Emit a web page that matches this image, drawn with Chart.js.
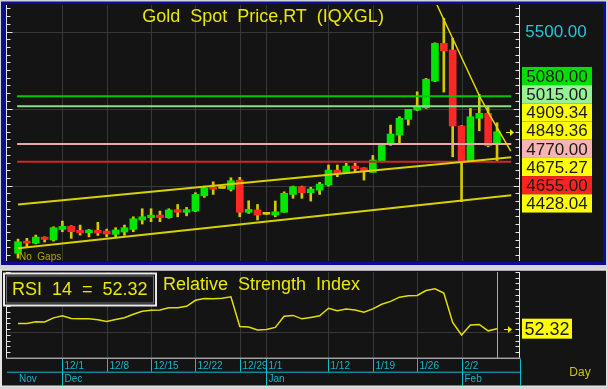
<!DOCTYPE html>
<html><head><meta charset="utf-8">
<script src="https://cdn.jsdelivr.net/npm/chart.js@4.4.1/dist/chart.umd.min.js"></script>
<style>
html,body{margin:0;padding:0;background:#d4d4d4;width:608px;height:389px;overflow:hidden}
canvas{position:absolute;left:0}
#main{top:0}
#rsi{top:266px}
</style></head><body>
<canvas id="main" width="608" height="266"></canvas>
<canvas id="rsi" width="608" height="123"></canvas>
<script>
// ---------- DATA (daily candles, 11/24 .. 2/6, no gaps) ----------
const opens  = [4061,4140,4126,4166,4147,4216,4236,4210,4194,4210,4205,4184,4199,4216,4277,4292,4309,4292,4344,4327,4335,4434,4484,4482,4476,4536,4327,4342,4314,4309,4327,4443,4493,4454,4471,4504,4601,4586,4627,4616,4586,4660,4770,4828,4930,4990,5005,5179,5423,5380,4887,4655,4937,4969,4768];
const highs  = [4153,4158,4179,4168,4233,4270,4240,4244,4216,4262,4218,4227,4244,4298,4350,4350,4335,4350,4378,4359,4454,4497,4525,4482,4551,4554,4402,4378,4314,4400,4460,4497,4497,4489,4521,4634,4634,4645,4645,4616,4696,4761,4893,4947,4995,5109,5196,5427,5586,5456,4890,5001,5092,5016,4908];
const lows   = [4030,4100,4122,4134,4140,4201,4158,4179,4168,4177,4168,4164,4177,4201,4251,4266,4266,4288,4298,4304,4331,4424,4443,4482,4465,4298,4320,4277,4314,4298,4327,4418,4418,4400,4443,4497,4558,4586,4584,4536,4586,4660,4761,4770,4893,4986,5001,5174,5107,4687,4396,4655,4856,4752,4660];
const closes = [4136,4127,4166,4151,4227,4236,4201,4193,4212,4193,4186,4212,4227,4285,4298,4309,4292,4342,4327,4344,4443,4486,4476,4482,4532,4327,4346,4309,4314,4330,4450,4493,4454,4478,4510,4601,4580,4627,4610,4595,4666,4761,4835,4937,4995,5016,5190,5423,5375,4887,4651,4947,4969,4759,4849.36];
const rsiValues = [55.9,56.0,57.1,57.0,59.9,61.4,59.5,59.2,59.2,58.5,57.4,58.8,60.0,62.4,64.5,65.2,65.4,66.9,66.9,68.0,72.2,73.4,73.3,73.6,74.6,53.9,53.5,51.4,51.8,53.2,61.0,61.6,59.2,60.2,61.3,66.6,64.9,66.1,65.4,63.8,66.2,69.4,71.4,74.4,75.4,75.6,79.0,80.2,77.2,56.7,47.9,54.9,55.3,50.8,52.32];

const weekTickIdx    = [5,10,15,20,25,28,35,40,45,50];
const weekTickLabels = ['12/1','12/8','12/15','12/22','12/29','1/1','1/12','1/19','1/26','2/2'];
const monthTickIdx    = [0,5,28,50];
const monthTickLabels = ['Nov','Dec','Jan','Feb'];

const levelValues = [5080,5015,4770,4655];
const levelColors = ['#00c800','#84e084','#e8aaaa','#d02626'];
const levelSpan   = [-0.1,55.6];

const channelIdx   = [0,55.6];
const upperChannel = [4377,4684];
const lowerChannel = [4094,4438];

const trendIdx    = [47.0,49.08,52.08,53.2,55.55];
const trendPrices = [5701,5445,5075,4956,4724];

const sideLabelValues = [5080,5015,4909.34,4849.36,4770,4675.27,4655,4428.04];
const sideLabelColors = ['#00e000','#98f098','#ffff00','#ffff00','#f6b4b4','#ffff00','#ff2222','#ffff00'];
const axisPriceLabel = 5500;
const priceGrid = [4500,5000,5500];
const rsiGrid = [50];
const rsiPeriod = 14;

const FONT = '"Liberation Sans", Arial, sans-serif';
const YEL = '#e8e800';
const CYAN = '#10b8c8';

// ---------- helpers ----------
const idx = closes.map((_, i) => i);
const last = closes.length - 1;

function stackLabels(targets, h) {
  let clusters = targets.map(t => ({ sum: t, n: 1 }));
  let changed = true;
  while (changed) {
    changed = false;
    for (let k = 0; k < clusters.length - 1; k++) {
      const a = clusters[k], b = clusters[k + 1];
      const aBot = a.sum / a.n + a.n * h / 2;
      const bTop = b.sum / b.n - b.n * h / 2;
      if (aBot > bTop) {
        clusters.splice(k, 2, { sum: a.sum + b.sum, n: a.n + b.n });
        changed = true; break;
      }
    }
  }
  const out = [];
  clusters.forEach(c => {
    const top = c.sum / c.n - c.n * h / 2;
    for (let j = 0; j < c.n; j++) out.push(top + j * h);
  });
  return out;
}

function arrow(ctx, x, y) {
  ctx.save();
  ctx.strokeStyle = YEL; ctx.fillStyle = YEL; ctx.lineWidth = 1;
  ctx.beginPath(); ctx.moveTo(x, y + 0.5); ctx.lineTo(x + 5, y + 0.5); ctx.stroke();
  ctx.beginPath(); ctx.moveTo(x + 8, y + 0.5); ctx.lineTo(x + 4, y - 3); ctx.lineTo(x + 4, y + 4); ctx.closePath(); ctx.fill();
  ctx.restore();
}

function vGrid(ctx, chart) {
  const a = chart.chartArea, xs = chart.scales.x;
  ctx.save();
  ctx.strokeStyle = '#383838'; ctx.lineWidth = 1;
  weekTickIdx.forEach(i => {
    const x = Math.round(xs.getPixelForValue(i)) + 0.5;
    ctx.beginPath(); ctx.moveTo(x, a.top); ctx.lineTo(x, a.bottom); ctx.stroke();
  });
  ctx.restore();
}

// ---------- MAIN PRICE CHART ----------
const mainPlugin = {
  id: 'mainDeco',
  beforeDraw(chart) {
    const ctx = chart.ctx;
    ctx.save();
    ctx.fillStyle = '#d4d4d4'; ctx.fillRect(0, 0, 608, 266);
    ctx.fillStyle = '#0c0c96'; ctx.fillRect(1, 1.5, 605, 263.5);
    ctx.fillStyle = '#141414'; ctx.fillRect(6, 4, 597, 258);
    ctx.restore();
  },
  beforeDatasetsDraw(chart) {
    const ctx = chart.ctx, a = chart.chartArea, ys = chart.scales.y;
    vGrid(ctx, chart);
    ctx.save();
    ctx.strokeStyle = '#383838'; ctx.lineWidth = 1;
    priceGrid.forEach(v => {
      const y = Math.round(ys.getPixelForValue(v)) + 0.5;
      ctx.beginPath(); ctx.moveTo(a.left, y); ctx.lineTo(a.right, y); ctx.stroke();
    });
    ctx.restore();
  },
  afterDraw(chart) {
    const ctx = chart.ctx, a = chart.chartArea, ys = chart.scales.y;
    ctx.save();
    // axes lines + ticks
    ctx.strokeStyle = '#e6e6e6'; ctx.lineWidth = 1;
    ctx.beginPath(); ctx.moveTo(6.5, a.top); ctx.lineTo(6.5, a.bottom); ctx.stroke();
    ctx.beginPath(); ctx.moveTo(519.5, a.top); ctx.lineTo(519.5, a.bottom); ctx.stroke();
    for (let v = 4050; v <= 5650; v += 50) {
      const y = Math.round(ys.getPixelForValue(v)) + 0.5;
      if (y < a.top || y > a.bottom) continue;
      const len = (v % 500 === 0) ? 6 : 4;
      ctx.beginPath(); ctx.moveTo(6.5, y); ctx.lineTo(6.5 + len, y); ctx.stroke();
      ctx.beginPath(); ctx.moveTo(519.5, y); ctx.lineTo(519.5 - len, y); ctx.stroke();
    }
    // title
    ctx.fillStyle = YEL; ctx.font = '18px ' + FONT;
    ctx.textAlign = 'center'; ctx.textBaseline = 'alphabetic';
    ctx.fillText('Gold  Spot  Price,RT  (IQXGL)', 263, 22);
    // no gaps
    ctx.fillStyle = '#b0a800'; ctx.font = '10px ' + FONT; ctx.textAlign = 'left';
    ctx.fillText('No  Gaps', 19, 260);
    // 5500 axis label
    ctx.font = '17px ' + FONT; ctx.textAlign = 'center'; ctx.textBaseline = 'middle';
    ctx.fillStyle = '#20c8d8';
    ctx.fillText(axisPriceLabel.toFixed(2), 556, ys.getPixelForValue(axisPriceLabel) + 1);
    // side labels
    const order = sideLabelValues.map((v, k) => k).sort((p, q) => ys.getPixelForValue(sideLabelValues[p]) - ys.getPixelForValue(sideLabelValues[q]));
    const h = 18.2;
    const tops = stackLabels(order.map(k => ys.getPixelForValue(sideLabelValues[k])), h);
    order.forEach((k, j) => {
      const top = tops[j];
      ctx.fillStyle = sideLabelColors[k];
      ctx.fillRect(522, top, 70, h);
      ctx.fillStyle = '#1a1a1a';
      ctx.fillText(sideLabelValues[k].toFixed(2), 557, top + h / 2 + 1);
    });
    // last price arrow
    arrow(ctx, 506, Math.round(ys.getPixelForValue(closes[last])));
    ctx.restore();
  }
};

const wickColor = '#d4c800';
const bodyColors = closes.map((c, i) => c > opens[i] ? '#00e600' : (c < opens[i] ? '#ff2626' : '#d4c800'));

const mainDatasets = [];
levelValues.forEach((v, k) => {
  mainDatasets.push({ type: 'line', data: levelSpan.map(x => ({ x, y: v })), borderColor: levelColors[k], borderWidth: 2, pointRadius: 0, order: -1 });
});
mainDatasets.push({ type: 'line', data: channelIdx.map((x, k) => ({ x, y: upperChannel[k] })), borderColor: '#d8d000', borderWidth: 2, pointRadius: 0, order: -2 });
mainDatasets.push({ type: 'line', data: channelIdx.map((x, k) => ({ x, y: lowerChannel[k] })), borderColor: '#d8d000', borderWidth: 2, pointRadius: 0, order: -2 });
mainDatasets.push({ type: 'line', data: trendIdx.map((x, k) => ({ x, y: trendPrices[k] })), borderColor: '#e0d800', borderWidth: 1.5, pointRadius: 0, order: -2 });
mainDatasets.push({ type: 'bar', data: idx.map(i => ({ x: i, y: [lows[i], highs[i]] })), backgroundColor: wickColor, barThickness: 2, grouped: false, order: 2 });
mainDatasets.push({ type: 'bar', data: idx.map(i => ({ x: i, y: [opens[i], closes[i]] })), backgroundColor: bodyColors, barThickness: 7, minBarLength: 2, grouped: false, order: 1 });

new Chart(document.getElementById('main'), {
  data: { datasets: mainDatasets },
  options: {
    responsive: false, animation: false, devicePixelRatio: 1, events: [],
    layout: { padding: { left: 8, right: 95, top: 5, bottom: 5 } },
    plugins: { legend: { display: false }, tooltip: { enabled: false } },
    scales: {
      x: { type: 'linear', min: -1.13, max: 55.8, display: false, offset: false },
      y: { type: 'linear', min: 4011, max: 5672, display: false }
    }
  },
  plugins: [mainPlugin]
});

// ---------- RSI CHART ----------
const rsiPlugin = {
  id: 'rsiDeco',
  beforeDraw(chart) {
    const ctx = chart.ctx;
    ctx.save();
    ctx.fillStyle = '#d4d4d4'; ctx.fillRect(0, 0, 608, 123);
    ctx.fillStyle = '#e4e4e4'; ctx.fillRect(0, 3.3, 607, 117.5);
    ctx.fillStyle = '#141414'; ctx.fillRect(2, 4.7, 604, 114.8);
    ctx.restore();
  },
  beforeDatasetsDraw(chart) {
    const ctx = chart.ctx, a = chart.chartArea, ys = chart.scales.y, xs = chart.scales.x;
    vGrid(ctx, chart);
    ctx.save();
    ctx.strokeStyle = '#383838'; ctx.lineWidth = 1;
    rsiGrid.forEach(v => {
      const y = Math.round(ys.getPixelForValue(v)) + 0.5;
      ctx.beginPath(); ctx.moveTo(a.left, y); ctx.lineTo(a.right, y); ctx.stroke();
    });
    // cursor line at last bar
    ctx.strokeStyle = '#a8a8a8';
    const cx = Math.round(xs.getPixelForValue(last)) + 0.5;
    ctx.beginPath(); ctx.moveTo(cx, a.top); ctx.lineTo(cx, a.bottom); ctx.stroke();
    ctx.restore();
  },
  afterDraw(chart) {
    const ctx = chart.ctx, a = chart.chartArea, ys = chart.scales.y, xs = chart.scales.x;
    ctx.save();
    ctx.strokeStyle = '#e6e6e6'; ctx.lineWidth = 1;
    ctx.beginPath(); ctx.moveTo(6.5, a.top); ctx.lineTo(6.5, a.bottom + 0.5); ctx.lineTo(520.5, a.bottom + 0.5); ctx.stroke();
    ctx.beginPath(); ctx.moveTo(519.5, a.top); ctx.lineTo(519.5, a.bottom); ctx.stroke();
    for (let v = 32; v <= 92; v += 4) {
      const y = Math.round(ys.getPixelForValue(v)) + 0.5;
      if (y < a.top || y > a.bottom) continue;
      ctx.beginPath(); ctx.moveTo(6.5, y); ctx.lineTo(10.5, y); ctx.stroke();
      ctx.beginPath(); ctx.moveTo(519.5, y); ctx.lineTo(515.5, y); ctx.stroke();
    }
    // date strip
    const bTop = a.bottom + 1.5, mid = 105.7, bBot = 120;
    ctx.strokeStyle = '#10c0d0';
    ctx.beginPath(); ctx.moveTo(7, mid + 0.5); ctx.lineTo(520.5, mid + 0.5); ctx.stroke();
    ctx.beginPath(); ctx.moveTo(520.5, bTop); ctx.lineTo(520.5, bBot); ctx.stroke();
    ctx.font = '10px ' + FONT; ctx.textBaseline = 'middle'; ctx.textAlign = 'left';
    weekTickIdx.forEach((i, k) => {
      const x = Math.round(xs.getPixelForValue(i)) + 0.5;
      ctx.strokeStyle = '#10c0d0';
      ctx.beginPath(); ctx.moveTo(x, bTop); ctx.lineTo(x, mid); ctx.stroke();
      ctx.fillStyle = CYAN;
      ctx.fillText(weekTickLabels[k], x + 2, 100.5);
    });
    monthTickIdx.forEach((i, k) => {
      const x = Math.round(xs.getPixelForValue(i)) + 0.5;
      if (k > 0) {
        ctx.strokeStyle = '#10c0d0';
        ctx.beginPath(); ctx.moveTo(x, bTop); ctx.lineTo(x, bBot); ctx.stroke();
      }
      ctx.fillStyle = CYAN;
      ctx.fillText(monthTickLabels[k], x + (k > 0 ? 2 : 0.5), 113);
    });
    ctx.fillStyle = '#c8c800'; ctx.font = '12px ' + FONT; ctx.textAlign = 'center';
    ctx.fillText('Day', 580, 107);
    // RSI box
    ctx.fillStyle = '#141414'; ctx.fillRect(4, 7.5, 152, 32);
    ctx.strokeStyle = '#e8e8e8'; ctx.lineWidth = 2;
    ctx.strokeRect(4, 7.5, 152, 32);
    ctx.strokeStyle = '#707070'; ctx.lineWidth = 1;
    ctx.strokeRect(6.5, 10, 147, 27);
    ctx.fillStyle = YEL; ctx.font = '18px ' + FONT; ctx.textAlign = 'left'; ctx.textBaseline = 'alphabetic';
    ctx.fillText('RSI  ' + rsiPeriod + '  =  ' + rsiValues[last].toFixed(2), 12, 28.5);
    ctx.fillText('Relative  Strength  Index', 163, 24);
    // RSI value label
    const yv = ys.getPixelForValue(rsiValues[last]);
    ctx.fillStyle = '#ffff00'; ctx.fillRect(522, yv - 10, 50, 20);
    ctx.fillStyle = '#1a1a1a'; ctx.textAlign = 'center'; ctx.textBaseline = 'middle';
    ctx.fillText(rsiValues[last].toFixed(2), 547, yv + 1);
    arrow(ctx, 504, Math.round(yv));
    ctx.restore();
  }
};

new Chart(document.getElementById('rsi'), {
  type: 'line',
  data: { datasets: [{ data: idx.map(i => ({ x: i, y: rsiValues[i] })), borderColor: '#e0e000', borderWidth: 1.5, pointRadius: 0, tension: 0 }] },
  options: {
    responsive: false, animation: false, devicePixelRatio: 1, events: [],
    layout: { padding: { left: 8, right: 95, top: 6, bottom: 31.3 } },
    plugins: { legend: { display: false }, tooltip: { enabled: false } },
    scales: {
      x: { type: 'linear', min: -1.13, max: 55.8, display: false },
      y: { type: 'linear', min: 32, max: 92, display: false }
    }
  },
  plugins: [rsiPlugin]
});
</script>
</body></html>
